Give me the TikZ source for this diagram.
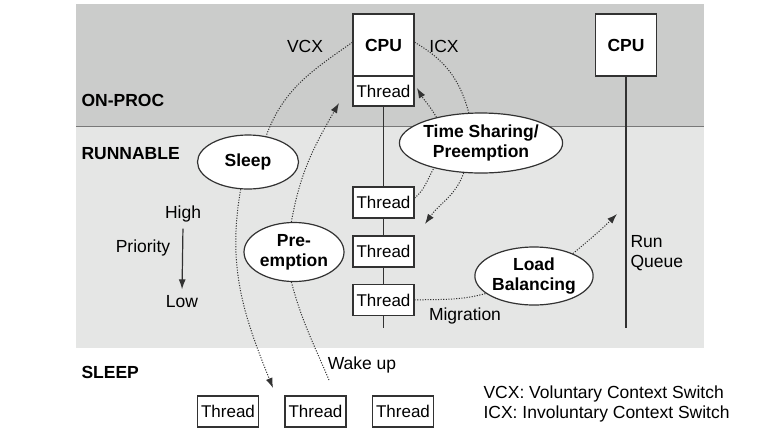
\documentclass[tikz,border=0pt]{standalone}
\usepackage{fontspec}
\setmainfont{Liberation Sans}
\usetikzlibrary{shapes.geometric,arrows.meta}
\definecolor{onproc}{RGB}{203,204,203}
\definecolor{runnable}{RGB}{229,230,229}
\definecolor{edge}{RGB}{50,50,50}
\definecolor{divider}{RGB}{120,120,120}

\begin{document}
\begin{tikzpicture}[x=1pt, y=1pt,
	font=\fontsize{17.5}{20}\selectfont,
	box/.style={shape=rectangle,
				draw=edge,
				fill=white,
				line width=1.2pt,
				minimum width=61pt,
				inner sep=0pt},
	cpubox/.style={box, minimum height=62pt, font=\fontsize{17.5}{20}\selectfont\bfseries},
	threadbox/.style={box, minimum height=31pt, font=\fontsize{17}{20}\selectfont},
	bubble/.style={shape=ellipse,
				   draw=edge,
				   fill=white,
				   line width=1.2pt,
				   inner sep=0pt,
				   align=center,
				   font=\fontsize{17.5}{20}\selectfont\bfseries},
	lane/.style={anchor=west, font=\fontsize{17.5}{20}\selectfont\bfseries},
	queue/.style={draw=edge, line width=1.8pt},
	switch/.style={draw=edge, line width=1pt, dash pattern=on 1.1pt off 1.5pt},
	switcharrow/.style={switch, -{Latex[length=10pt, width=7pt]}}]
	\useasboundingbox (0,0) rectangle (776,-432);

	% bands
	\fill[onproc] (76,-4) rectangle (704,-126);
	\fill[runnable] (76,-126) rectangle (704,-348);
	\draw[divider, line width=1pt] (76,-126) -- (704,-126);

	\draw (78,-100) node[lane](onprocl){ON-PROC};
	\draw (78,-154) node[lane](runnablel){RUNNABLE};
	\draw (78,-372) node[lane](sleepl){SLEEP};

	% cpus and run queues
	\draw (383.5,-45) node[cpubox](cpuA){CPU};
	\draw (383.5,-91) node[threadbox, minimum height=30pt](thrA){Thread};
	\draw (626,-45) node[cpubox](cpuB){CPU};

	\draw (383.5,-202.5) node[threadbox](thr1){Thread};
	\draw (383.5,-251.5) node[threadbox](thr2){Thread};
	\draw (383.5,-300) node[threadbox](thr3){Thread};

	\coordinate (qendA) at (383.5,-328);
	\coordinate (qendB) at (626,-328);
	\draw[queue] (thrA.south) -- (thr1.north);
	\draw[queue] (thr1.south) -- (thr2.north);
	\draw[queue] (thr2.south) -- (thr3.north);
	\draw[queue] (thr3.south) -- (qendA);
	\draw[queue] (cpuB.south) -- (qendB);

	\draw (228,-411.5) node[threadbox](slp1){Thread};
	\draw (315.5,-411.5) node[threadbox](slp2){Thread};
	\draw (403,-411.5) node[threadbox](slp3){Thread};

	% events
	\draw (248,-162) node[bubble, minimum width=101pt, minimum height=54pt](sleep){Sleep};
	\draw (481,-143) node[bubble, minimum width=156pt, minimum height=60pt](tshare){Time Sharing/\\Preemption};
	\draw (294,-252) node[bubble, minimum width=100pt, minimum height=59pt](preempt){Pre-\\emption};
	\draw (534,-276) node[bubble, minimum width=118pt, minimum height=58pt](balance){Load\\Balancing};

	% labels
	\draw (305,-46) node[](vcx){VCX};
	\draw (444,-46) node[](icx){ICX};
	\draw (183,-214) node[](high){High};
	\draw (143,-248) node[](prio){Priority};
	\draw (182,-302) node[](low){Low};
	\draw (627,-253) node[anchor=west, align=left](runq){Run\\Queue};
	\draw (465,-316) node[](migr){Migration};
	\draw (362,-365) node[](wake){Wake up};
	\draw (480,-403.5) node[anchor=west, align=left](legend){VCX: Voluntary Context Switch\\ICX: Involuntary Context Switch};

	\draw [draw=edge, line width=1.2pt, -{Latex[length=10pt, width=7pt]}, shorten <=3pt, shorten >=3pt](high.south) -- (low.north);

	% context switches
	\coordinate (sleepend) at (273,-388);
	\coordinate (wakestart) at (329,-380);
	\coordinate (preemptend) at (339,-103);
	\coordinate (icxend) at (425,-224);
	\coordinate (tshareend) at (417,-88);
	\coordinate (balanceend) at (617,-214);

	\draw [switch](cpuA.175) to[out=215, in=70] (sleep.55);
	\draw [switcharrow](sleep.255) to[out=260, in=112] (sleepend);
	\draw [switch](wakestart) to[out=113, in=-75] (preempt.265);
	\draw [switcharrow](preempt.95) to[out=80, in=240] (preemptend);
	\draw [switch](cpuA.5) to[out=-30, in=105] (tshare.112);
	\draw [switcharrow](tshare.240) to[out=250, in=55] (icxend);
	\draw [switch](thr1.8) to[out=40, in=240] (tshare.208);
	\draw [switcharrow](tshare.150) to[out=120, in=-60] (tshareend);
	\draw [switch](thr3.east) to[out=2, in=195] (balance.200);
	\draw [switcharrow](balance.30) to[out=40, in=-135] (balanceend);
\end{tikzpicture}
\end{document}
